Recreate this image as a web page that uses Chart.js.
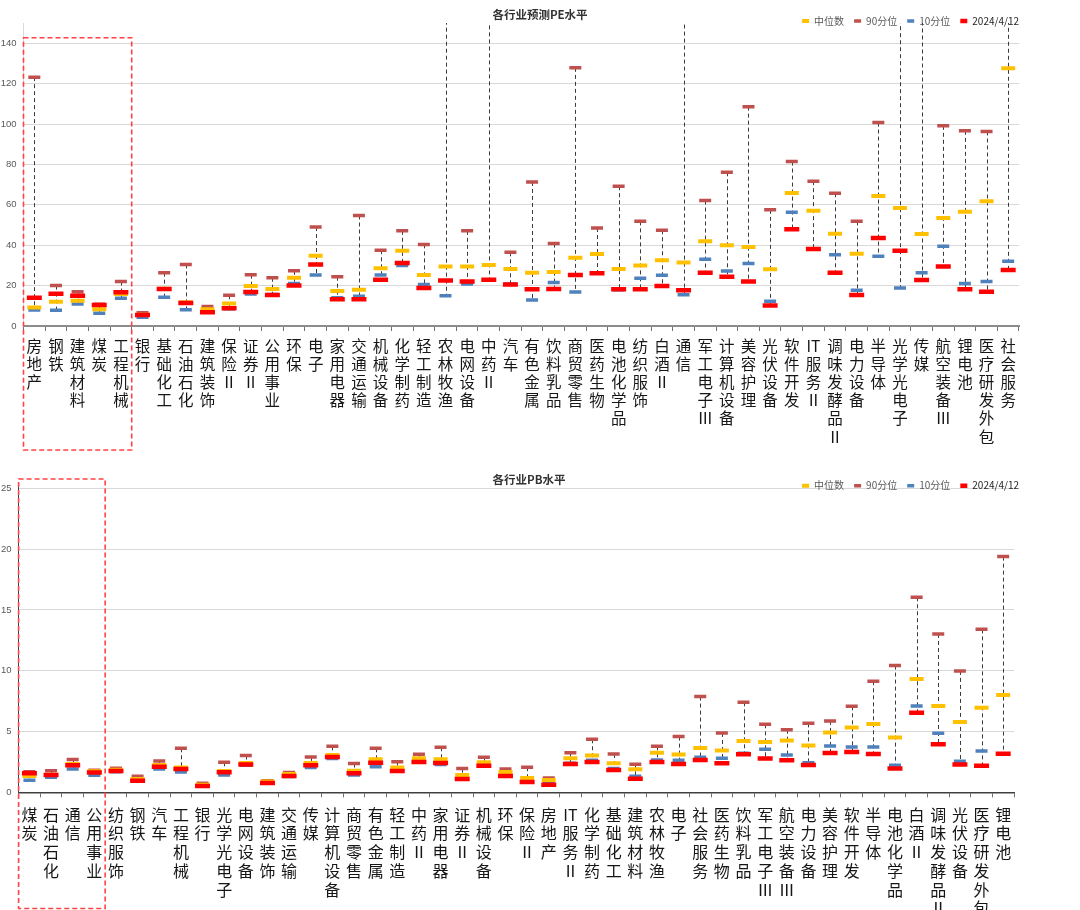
<!DOCTYPE html>
<html>
<head>
<meta charset="utf-8">
<script src="https://cdn.jsdelivr.net/npm/chart.js@4.4.1/dist/chart.umd.min.js"></script>
<style>
  body { margin: 0; background: #fff; width: 1080px; height: 910px; overflow: hidden; position: relative; }
  .box { position: absolute; left: 0; width: 1080px; }
  #peBox { top: 0; height: 455px; }
  #pbBox { top: 462px; height: 448px; }
</style>
</head>
<body>
<div class="box" id="peBox"><canvas id="peChart"></canvas></div>
<div class="box" id="pbBox"><canvas id="pbChart"></canvas></div>
<script>
'use strict';

let seriesNames = ['中位数', '90分位', '10分位', '2024/4/12'];

// 各行业预测PE
let peCategories = ['房地产','钢铁','建筑材料','煤炭','工程机械','银行','基础化工','石油石化','建筑装饰','保险Ⅱ',
  '证券Ⅱ','公用事业','环保','电子','家用电器','交通运输','机械设备','化学制药','轻工制造','农林牧渔',
  '电网设备','中药Ⅱ','汽车','有色金属','饮料乳品','商贸零售','医药生物','电池化学品','纺织服饰','白酒Ⅱ',
  '通信','军工电子Ⅲ','计算机设备','美容护理','光伏设备','软件开发','IT服务Ⅱ','调味发酵品Ⅱ','电力设备','半导体',
  '光学光电子','传媒','航空装备Ⅲ','锂电池','医疗研发外包','社会服务'];
let peMedian = [9.2,12.0,12.5,8.3,15.8,5.6,18.5,11.7,8.3,11.2,
  19.8,18.3,23.9,34.8,17.3,17.9,28.6,37.3,25.3,29.4,
  29.4,30.2,28.2,26.3,26.7,33.8,35.7,28.2,29.9,32.5,
  31.4,41.9,40.0,39.1,28.1,65.9,57.0,45.7,35.8,64.4,
  58.4,45.6,53.5,56.6,61.7,127.6];
let peP90 = [123.2,20.0,17.0,10.8,22.0,6.6,26.4,30.5,9.6,15.2,
  25.4,23.9,27.4,49.0,24.4,54.7,37.5,47.1,40.4,165,
  47.1,180,36.5,71.3,40.8,127.8,48.5,69.2,51.8,47.4,
  170,62.1,76.1,108.6,57.5,81.4,71.7,65.7,51.8,100.7,
  190,175,99.1,96.6,96.3,210];
let peP10 = [7.9,7.8,10.9,6.3,13.7,4.3,14.2,8.1,7.6,8.6,
  15.8,15.6,21.0,25.3,14.0,14.7,25.3,29.9,20.6,15.0,
  20.8,22.6,20.8,12.9,21.5,16.8,26.3,18.0,23.6,25.1,
  15.5,33.0,27.2,30.9,12.2,56.3,38.0,35.3,17.7,34.5,
  18.8,26.3,39.5,21.0,22.0,32.0];
let peNow = [14.0,16.0,15.0,10.4,16.7,5.4,18.3,11.4,6.8,8.8,
  16.8,15.4,20.1,30.5,13.2,13.2,22.9,31.2,18.8,22.5,
  22.0,22.9,20.6,18.2,18.3,25.3,26.1,18.2,18.2,19.8,
  17.7,26.3,24.4,22.0,10.2,47.9,38.1,26.3,15.4,43.6,
  37.3,22.8,29.4,18.2,17.0,27.7];
let peTicks = [0, 20, 40, 60, 80, 100, 120, 140];

// 各行业PB
let pbCategories = ['煤炭','石油石化','通信','公用事业','纺织服饰','钢铁','汽车','工程机械','银行','光学光电子',
  '电网设备','建筑装饰','交通运输','传媒','计算机设备','商贸零售','有色金属','轻工制造','中药Ⅱ','家用电器',
  '证券Ⅱ','机械设备','环保','保险Ⅱ','房地产','IT服务Ⅱ','化学制药','基础化工','建筑材料','农林牧渔',
  '电子','社会服务','医药生物','饮料乳品','军工电子Ⅲ','航空装备Ⅲ','电力设备','美容护理','软件开发','半导体',
  '电池化学品','白酒Ⅱ','调味发酵品Ⅱ','光伏设备','医疗研发外包','锂电池'];
let pbMedian = [1.34,1.45,2.33,1.73,1.86,1.10,2.25,2.03,0.63,1.75,
  2.41,0.88,1.51,2.41,3.07,1.78,2.71,2.03,2.80,2.71,
  1.43,2.47,1.67,1.18,1.01,2.80,3.02,2.38,1.89,3.26,
  3.10,3.65,3.43,4.22,4.14,4.25,3.84,4.91,5.32,5.62,
  4.50,9.32,7.10,5.78,6.96,8.00];
let pbP90 = [1.70,1.78,2.69,1.81,1.97,1.32,2.58,3.62,0.74,2.47,
  3.02,0.96,1.62,2.91,3.78,2.36,3.62,2.52,3.12,3.70,
  1.95,2.88,1.92,2.06,1.18,3.26,4.36,3.15,2.30,3.78,
  4.58,7.87,4.88,7.40,5.59,5.15,5.67,5.87,7.07,9.13,
  10.42,16.04,13.02,9.98,13.40,19.38];
let pbP10 = [1.00,1.23,1.92,1.40,1.70,0.94,1.92,1.67,0.50,1.43,
  2.22,0.75,1.30,2.03,2.77,1.43,2.11,1.78,2.50,2.28,
  1.15,2.20,1.51,0.96,0.85,2.38,2.63,1.95,1.32,2.66,
  2.63,2.88,2.80,3.21,3.54,3.07,2.44,3.81,3.73,3.73,
  2.22,7.10,4.85,2.55,3.40,3.12];
let pbNow = [1.56,1.43,2.22,1.62,1.75,0.96,2.11,1.92,0.52,1.64,
  2.28,0.77,1.34,2.22,2.91,1.56,2.44,1.75,2.49,2.41,
  1.10,2.19,1.34,0.85,0.63,2.33,2.49,1.84,1.12,2.49,
  2.33,2.66,2.38,3.12,2.77,2.63,2.25,3.23,3.32,3.15,
  1.95,6.55,3.95,2.28,2.19,3.18];
let pbTicks = [0, 5, 10, 15, 20, 25];

Chart.defaults.font.family = "'Noto Sans CJK SC', 'Noto Sans', sans-serif";
Chart.defaults.animation = false;

// one character per line, keep "IT" together
function verticalLabel(name) {
  return name.match(/IT|./gu);
}

// dashed line from lowest to highest value of each category
const hiLoLines = {
  id: 'hiLoLines',
  beforeDatasetsDraw(chart) {
    const { ctx, chartArea, scales: { x, y } } = chart;
    const sets = chart.data.datasets;
    ctx.save();
    ctx.beginPath();
    ctx.rect(chartArea.left, chartArea.top, chartArea.width, chartArea.height);
    ctx.clip();
    ctx.strokeStyle = '#3a3a3a';
    ctx.lineWidth = 1;
    ctx.setLineDash([4, 3]);
    chart.data.labels.forEach((lab, i) => {
      let vals = sets.map(d => d.data[i]);
      let px = Math.round(x.getPixelForValue(i)) + 0.5;
      ctx.beginPath();
      ctx.moveTo(px, y.getPixelForValue(Math.max(...vals)));
      ctx.lineTo(px, y.getPixelForValue(Math.min(...vals)));
      ctx.stroke();
    });
    ctx.restore();
  }
};

// red dashed frame round the first categories
const markBox = {
  id: 'markBox',
  afterDraw(chart, args, opts) {
    const { ctx, scales: { x } } = chart;
    let half = (x.getPixelForValue(1) - x.getPixelForValue(0)) / 2;
    let left = x.getPixelForValue(0) - half;
    let right = x.getPixelForValue(opts.count - 1) + half;
    ctx.save();
    ctx.strokeStyle = '#ff4343';
    ctx.lineWidth = 1.6;
    ctx.setLineDash([5, 3]);
    ctx.strokeRect(left, opts.top, right - left, opts.bottom - opts.top);
    ctx.restore();
  }
};

// title and legend sit over the plot top, as in the excel chart
const placeBlocks = {
  id: 'placeBlocks',
  beforeInit(chart) {
    [chart.legend, chart.titleBlock].forEach(block => {
      const update = block.update;
      block.update = function (...a) {
        update.apply(this, a);
        this.height = 0;
        this.bottom = this.top;
      };
    });
  },
  afterLayout(chart, args, opts) {
    const lg = chart.legend;
    lg.left = 0;
    lg.right = opts.legendRight + opts.legendPad;
    lg.top = opts.legendY - opts.legendPad - opts.legendFont / 2;
    lg.bottom = lg.top + opts.legendPad * 2 + opts.legendFont;
    const tb = chart.titleBlock;
    tb.left = opts.titleCenter - 300;
    tb.right = opts.titleCenter + 300;
    tb.top = opts.titleY - opts.titleFont * 0.6;
    tb.bottom = tb.top + opts.titleFont * 1.2;
  }
};

function legendLabels(chart) {
  let items = Chart.defaults.plugins.legend.labels.generateLabels(chart);
  items.forEach(it => { it.fontColor = it.text === seriesNames[3] ? '#262626' : '#595959'; });
  return items;
}

function makeDatasets(median, p90, p10, now) {
  let sets = [
    { label: seriesNames[0], data: median, color: '#ffc000', radius: 7, width: 4, order: 1 },
    { label: seriesNames[1], data: p90, color: '#c0504d', radius: 6, width: 3.5, order: 3 },
    { label: seriesNames[2], data: p10, color: '#4f81bd', radius: 6, width: 3.5, order: 2 },
    { label: seriesNames[3], data: now, color: '#ff0000', radius: 7.5, width: 4.5, order: 0 }
  ];
  return sets.map(s => ({
    label: s.label,
    data: s.data,
    order: s.order,
    showLine: false,
    pointStyle: 'line',
    pointRadius: s.radius,
    pointHoverRadius: s.radius,
    pointBorderWidth: s.width,
    pointHoverBorderWidth: s.width,
    pointBorderColor: s.color,
    pointBackgroundColor: s.color,
    borderColor: s.color,
    backgroundColor: s.color
  }));
}

function drawChart(canvasId, c) {
  let ctx = document.getElementById(canvasId).getContext('2d');
  return new Chart(ctx, {
    type: 'line',
    data: {
      labels: c.categories.map(verticalLabel),
      datasets: makeDatasets(c.median, c.p90, c.p10, c.now)
    },
    plugins: [placeBlocks, hiLoLines, markBox],
    options: {
      responsive: true,
      maintainAspectRatio: false,
      layout: { padding: c.padding },
      plugins: {
        tooltip: { enabled: false },
        title: {
          display: true,
          text: c.title,
          color: '#333333',
          font: { size: 11.5, weight: 'bold' },
          padding: 0
        },
        legend: {
          display: true,
          position: 'top',
          align: 'end',
          labels: {
            usePointStyle: true,
            pointStyleWidth: 7,
            padding: 10,
            color: '#595959',
            font: { size: 10 },
            generateLabels: legendLabels,
            sort: (a, b) => a.datasetIndex - b.datasetIndex
          }
        },
        placeBlocks: {
          legendY: c.legendY, legendRight: 1019, legendPad: 10, legendFont: 10,
          titleY: c.titleY, titleCenter: c.titleCenter, titleFont: 11.5
        },
        markBox: c.box
      },
      scales: {
        x: {
          offset: true,
          afterFit: s => { s.height = c.xHeight; },
          border: { color: c.xBorder, width: c.xBorderWidth },
          grid: { offset: true, drawOnChartArea: false, drawTicks: true, tickLength: 5, tickColor: '#6f6f6f' },
          ticks: {
            autoSkip: false, maxRotation: 0, minRotation: 0,
            padding: c.labelPad, color: '#161616',
            font: { size: c.labelSize, lineHeight: c.labelLine }
          }
        },
        y: {
          min: 0,
          max: c.yMax,
          afterFit: s => { s.width = c.yWidth; },
          afterBuildTicks: s => { s.ticks = c.ticks.map(v => ({ value: v })); },
          border: { color: c.yBorder, width: 1 },
          grid: { color: '#d9d9d9', lineWidth: 1, drawTicks: false },
          ticks: {
            padding: 7, color: '#595959',
            font: { family: "'Liberation Sans', 'DejaVu Sans', sans-serif", size: 9.5 }
          }
        }
      }
    }
  });
}

drawChart('peChart', {
  categories: peCategories, median: peMedian, p90: peP90, p10: peP10, now: peNow,
  ticks: peTicks, yMax: 150, yWidth: 23.5, xHeight: 129,
  padding: { top: 23, right: 61, left: 0, bottom: 0 },
  labelSize: 15.5, labelLine: 1.17, labelPad: 6,
  xBorder: '#8c8c8c', xBorderWidth: 2, yBorder: '#d9d9d9',
  title: '各行业预测PE水平', titleY: 15, titleCenter: 540, legendY: 21,
  box: { count: 5, top: 37.7, bottom: 450 }
});

drawChart('pbChart', {
  categories: pbCategories, median: pbMedian, p90: pbP90, p10: pbP10, now: pbNow,
  ticks: pbTicks, yMax: 25.5, yWidth: 18.6, xHeight: 117.7,
  padding: { top: 20.2, right: 66, left: 0, bottom: 0 },
  labelSize: 16, labelLine: 1.17, labelPad: 8,
  xBorder: '#404040', xBorderWidth: 1.5, yBorder: '#404040',
  title: '各行业PB水平', titleY: 17.3, titleCenter: 529, legendY: 23.7,
  box: { count: 4, top: 17, bottom: 446.5 }
});
</script>
</body>
</html>
